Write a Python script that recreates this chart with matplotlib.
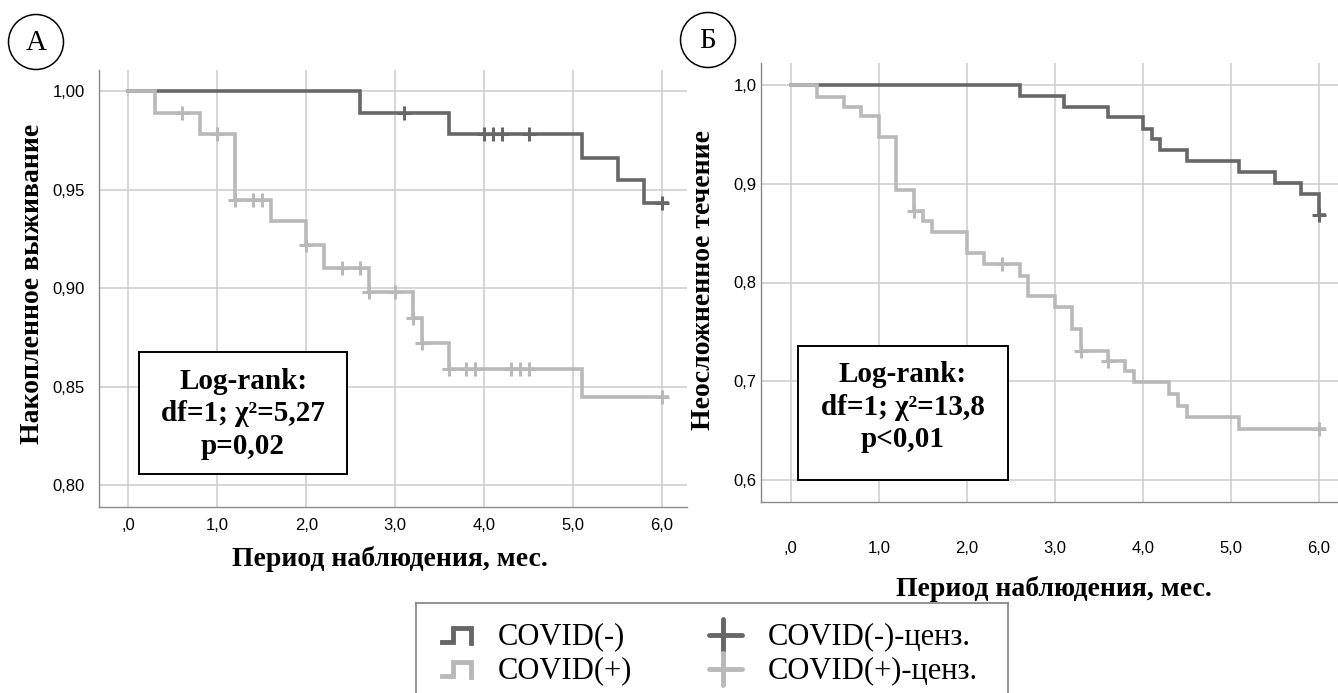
import matplotlib
matplotlib.use("Agg")
import matplotlib.pyplot as plt
from matplotlib.patches import Ellipse, Rectangle

W, H = 1338, 693
DARK = "#676767"
LIGHT = "#b9b9b9"
GRID = "#cfcfcf"
SERIF = "Liberation Serif"
SANS = "Liberation Sans"

# Панель А: накопленное выживание
a_neg_t = [0, 2.6, 3.6, 5.1, 5.5, 5.8, 6.06]
a_neg_s = [1.0, 0.989, 0.978, 0.966, 0.955, 0.943, 0.943]
a_neg_ct = [3.1, 4.0, 4.1, 4.2, 4.5, 6.0]
a_neg_cs = [0.989, 0.978, 0.978, 0.978, 0.978, 0.943]

a_pos_t = [0, 0.3, 0.8, 1.2, 1.6, 2.0, 2.2, 2.7, 3.2, 3.3, 3.6, 5.1, 6.06]
a_pos_s = [1.0, 0.989, 0.978, 0.945, 0.934, 0.922, 0.910, 0.898, 0.885,
           0.872, 0.859, 0.845, 0.845]
a_pos_ct = [0.6, 1.0, 1.2, 1.4, 1.5, 2.0, 2.4, 2.6, 2.7, 3.0, 3.2, 3.3,
            3.6, 3.8, 3.9, 4.3, 4.4, 4.5, 6.0]
a_pos_cs = [0.989, 0.978, 0.945, 0.945, 0.945, 0.922, 0.910, 0.910, 0.898,
            0.898, 0.885, 0.872, 0.859, 0.859, 0.859, 0.859, 0.859, 0.859,
            0.845]

# Панель Б: неосложненное течение
b_neg_t = [0, 2.6, 3.1, 3.6, 4.0, 4.1, 4.2, 4.5, 5.1, 5.5, 5.8, 6.0, 6.06]
b_neg_s = [1.0, 0.989, 0.978, 0.967, 0.955, 0.945, 0.934, 0.923, 0.912,
           0.901, 0.890, 0.868, 0.868]
b_neg_ct = [6.0]
b_neg_cs = [0.868]

b_pos_t = [0, 0.3, 0.6, 0.8, 1.0, 1.2, 1.4, 1.5, 1.6, 2.0, 2.2, 2.6, 2.7,
           3.0, 3.2, 3.3, 3.6, 3.8, 3.9, 4.3, 4.4, 4.5, 5.1, 6.06]
b_pos_s = [1.0, 0.988, 0.978, 0.968, 0.947, 0.894, 0.872, 0.862, 0.851,
           0.830, 0.819, 0.807, 0.786, 0.775, 0.753, 0.731, 0.721, 0.710,
           0.699, 0.687, 0.675, 0.664, 0.652, 0.652]
b_pos_ct = [1.4, 2.4, 3.3, 3.6, 6.0]
b_pos_cs = [0.872, 0.819, 0.731, 0.721, 0.652]

x_ticks = [0, 1, 2, 3, 4, 5, 6]
x_labels = [",0", "1,0", "2,0", "3,0", "4,0", "5,0", "6,0"]
a_y_ticks = [0.80, 0.85, 0.90, 0.95, 1.00]
a_y_labels = ["0,80", "0,85", "0,90", "0,95", "1,00"]
b_y_ticks = [0.6, 0.7, 0.8, 0.9, 1.0]
b_y_labels = ["0,6", "0,7", "0,8", "0,9", "1,0"]

a_stats = "Log-rank:\ndf=1; χ²=5,27\np=0,02"
b_stats = "Log-rank:\ndf=1; χ²=13,8\np<0,01"
xlabel = "Период наблюдения, мес."
a_ylabel = "Накопленное выживание"
b_ylabel = "Неосложненное течение"
legend_labels = ["COVID(-)", "COVID(+)", "COVID(-)-ценз.", "COVID(+)-ценз."]


def px(x0, y0, x1, y1):
    # прямоугольник в пикселях -> доли фигуры
    return [x0 / W, 1 - y1 / H, (x1 - x0) / W, (y1 - y0) / H]


def km_panel(ax, neg, pos, yticks, ylabels, xpad, ypad):
    # светлая кривая рисуется поверх тёмной, как в SPSS
    for t, s, ct, cs, col in (neg + (DARK,), pos + (LIGHT,)):
        ax.step(t, s, where="post", color=col, lw=2.6, solid_joinstyle="miter")
        ax.plot(ct, cs, ls="none", marker="+", ms=10, mew=2.2, color=col)
    ax.set_xticks(x_ticks)
    ax.set_xticklabels(x_labels)
    ax.set_yticks(yticks)
    ax.set_yticklabels(ylabels)
    ax.grid(True, color=GRID, lw=1.2)
    ax.set_axisbelow(True)
    for side in ("top", "right"):
        ax.spines[side].set_visible(False)
    for side in ("left", "bottom"):
        ax.spines[side].set_color("#8a8a8a")
        ax.spines[side].set_linewidth(1.0)
    ax.tick_params(length=0, labelsize=12)
    ax.tick_params(axis="x", pad=xpad)
    ax.tick_params(axis="y", pad=ypad)
    for lab in ax.get_xticklabels() + ax.get_yticklabels():
        lab.set_fontfamily(SANS)


def stats_box(ax, x0, x1, y0, y1, ty, text):
    ax.add_patch(Rectangle((x0, y0), x1 - x0, y1 - y0, fc="white",
                           ec="black", lw=1.4, zorder=5))
    ax.text((x0 + x1) / 2, ty, text, ha="center", va="center", fontsize=21,
            fontfamily=SERIF, fontweight="bold", linespacing=1.28, zorder=6)


fig = plt.figure(figsize=(W / 100, H / 100), dpi=100)

ax_a = fig.add_axes(px(99, 70, 687, 507))
km_panel(ax_a, (a_neg_t, a_neg_s, a_neg_ct, a_neg_cs),
         (a_pos_t, a_pos_s, a_pos_ct, a_pos_cs), a_y_ticks, a_y_labels, 8, 10)
ax_a.set_xlim(-0.33, 6.28)
ax_a.set_ylim(0.789, 1.0107)
stats_box(ax_a, 0.12, 2.46, 0.8056, 0.8678, 0.8362, a_stats)

ax_b = fig.add_axes(px(761, 63, 1338, 502))
km_panel(ax_b, (b_neg_t, b_neg_s, b_neg_ct, b_neg_cs),
         (b_pos_t, b_pos_s, b_pos_ct, b_pos_cs), b_y_ticks, b_y_labels, 28, 3)
ax_b.set_xlim(-0.34, 6.22)
ax_b.set_ylim(0.578, 1.022)
stats_box(ax_b, 0.077, 2.47, 0.6, 0.7357, 0.674, b_stats)

lab_kw = dict(fontsize=20, fontfamily=SERIF, fontweight="bold",
              ha="center", va="center")
fig.text(390 / W, 1 - 559 / H, xlabel, **lab_kw)
fig.text(1054 / W, 1 - 589 / H, xlabel, **lab_kw)
fig.text(33 / W, 1 - 284 / H, a_ylabel, rotation=90, **lab_kw)
fig.text(704 / W, 1 - 280 / H, b_ylabel, rotation=90, **lab_kw)

# буквы панелей в кружках
for cx, cy, letter in ((36, 42, "А"), (708, 40, "Б")):
    fig.add_artist(Ellipse((cx / W, 1 - cy / H), 55 / W, 55 / H,
                           transform=fig.transFigure, fc="none",
                           ec="black", lw=1.1))
    fig.text(cx / W, 1 - (cy + 1) / H, letter, fontsize=21, fontfamily=SERIF,
             ha="center", va="center")

# легенда
lg = fig.add_axes(px(416, 603, 1008, 693))
lg.set_xlim(0, 592)
lg.set_ylim(90, 0)
lg.set_xticks([])
lg.set_yticks([])
lg.spines["bottom"].set_visible(False)
for side in ("top", "left", "right"):
    lg.spines[side].set_color("#808080")
    lg.spines[side].set_linewidth(1.2)
for row, col in ((0, DARK), (1, LIGHT)):
    dy = row * 34
    lg.plot([26, 37, 37, 55, 55], [39 + dy, 39 + dy, 25 + dy, 25 + dy, 40 + dy],
            color=col, lw=3.5, solid_joinstyle="miter")
    lg.plot([293, 326], [32 + dy, 32 + dy], color=col, lw=3.5,
            solid_capstyle="round")
    lg.plot([307, 307], [16 + dy, 48 + dy], color=col, lw=3.5,
            solid_capstyle="round")
    lg.text(82, 34 + dy, legend_labels[row], fontsize=22, fontfamily=SERIF,
            va="center", ha="left")
    lg.text(352, 34 + dy, legend_labels[row + 2], fontsize=22,
            fontfamily=SERIF, va="center", ha="left")

fig.savefig("out.png", dpi=100)
